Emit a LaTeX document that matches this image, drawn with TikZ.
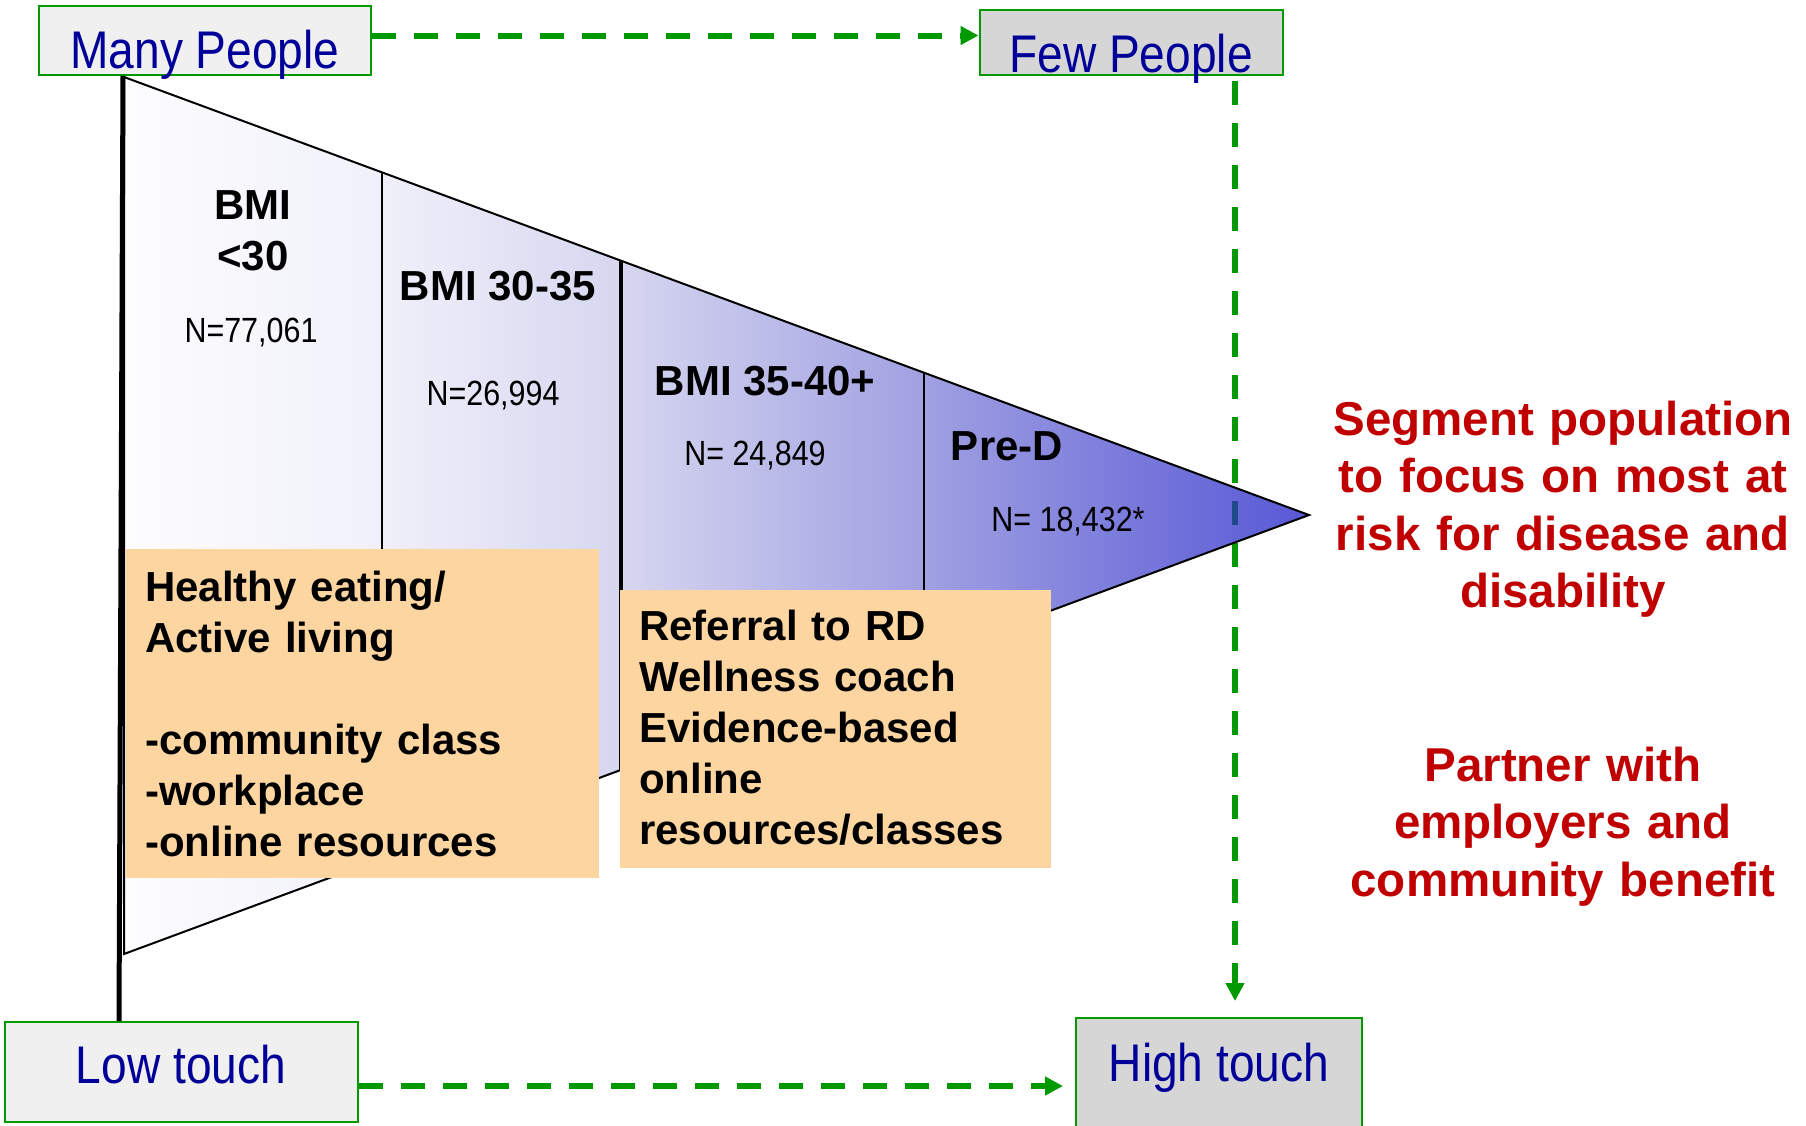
\documentclass[tikz,border=0pt]{standalone}
\usepackage{fontspec}
\setmainfont{Liberation Sans}
\newfontfamily\narrowfont[FakeStretch=0.87]{Liberation Sans}
\usetikzlibrary{arrows.meta}

\definecolor{linkgreen}{RGB}{0,153,0}
\definecolor{tagblue}{RGB}{0,0,153}
\definecolor{notered}{RGB}{192,0,0}
\definecolor{peach}{RGB}{252,213,161}
\definecolor{lightbox}{RGB}{240,240,240}
\definecolor{darkbox}{RGB}{214,214,214}
\definecolor{dashblue}{RGB}{31,74,138}
\definecolor{fun0}{RGB}{253,253,254}
\definecolor{fun1}{RGB}{240,240,250}
\definecolor{fun2}{RGB}{214,214,240}
\definecolor{fun3}{RGB}{160,160,226}
\definecolor{fun4}{RGB}{88,88,214}

\pgfdeclarehorizontalshading{funnel}{100bp}{color(0bp)=(fun0); color(25bp)=(fun0);
  color(35.9bp)=(fun1); color(46bp)=(fun2); color(58.8bp)=(fun3); color(75bp)=(fun4); color(100bp)=(fun4)}

\begin{document}
\begin{tikzpicture}[
  x=1pt, y=-1pt,
  touchbox/.style={draw=linkgreen, line width=2pt, inner sep=0pt, anchor=base, text=tagblue, font=\narrowfont\fontsize{53}{60}\selectfont},
  notebox/.style={fill=peach, anchor=north west, inner xsep=19pt, inner ysep=0pt, align=left, font=\bfseries\fontsize{42}{51}\selectfont},
  bmi/.style={anchor=base, inner sep=0pt, font=\bfseries\fontsize{42}{51}\selectfont},
  count/.style={anchor=base, inner sep=0pt, font=\narrowfont\fontsize{35}{42}\selectfont},
  remark/.style={anchor=base, inner sep=0pt, text width=520pt, align=center, text=notered, font=\bfseries\fontsize{47.5}{57.5}\selectfont},
  dashline/.style={linkgreen, line width=6pt, dash pattern=on 24pt off 18pt},
  arrow/.style={dashline, -{Triangle[length=18pt,width=18pt]}}
]
\useasboundingbox (0,0) rectangle (1806,1125);

\node[touchbox, fill=lightbox, minimum width=332pt, text height=62pt, text depth=7pt] (many) at (205,68) {Many People};
\node[touchbox, fill=darkbox, minimum width=303pt, text height=62pt, text depth=3pt] (few) at (1131,72) {Few People};
\node[touchbox, fill=lightbox, minimum width=353pt, text height=61pt, text depth=39pt] (low) at (181,1083) {Low touch};
\node[touchbox, fill=darkbox, minimum width=286pt, text height=63pt, text depth=63pt] (high) at (1219,1081) {High touch};

\draw[arrow] ([yshift=5pt]many.east) -- ([yshift=5pt]many.east -| few.west);
\draw[arrow, dash phase=37pt, shorten >=16pt] ([xshift=104pt]few.south) -- ([xshift=104pt]few.south |- high.north);
\draw[arrow, shorten >=12pt] ([yshift=-14pt]low.east) -- ([yshift=-14pt]low.east -| high.west);

\coordinate (tl) at (124,77);
\coordinate (tip) at (1309,515);
\coordinate (bl) at (124,954);
\shade[shading=funnel] (tl) -- (tip) -- (bl) -- cycle;
\begin{scope}
  \clip (tl) -- (tip) -- (bl) -- cycle;
  \draw[line width=1.5pt] (382,0) -- (382,1125);
  \draw[line width=3.5pt] (621,0) -- (621,1125);
  \draw[line width=1.5pt] (924,0) -- (924,1125);
  \draw[dashline, dashblue, dash phase=37pt] ([xshift=104pt]few.south) -- ([xshift=104pt]few.south |- high.north);
\end{scope}
\draw[line width=2pt] (tl) -- (tip) -- (bl) -- cycle;
\draw[line width=5pt] ([xshift=-82pt]many.south) -- ([xshift=-62pt]low.north);

\node[bmi, text width=120pt, align=center] (under30) at (253,219) {BMI\\<30};
\node[bmi] (mid) at (498,300) {BMI 30-35};
\node[bmi] (severe) at (765,395) {BMI 35-40+};
\node[bmi] (pred) at (1007,460) {Pre-D};
\node[count] (n1) at (251,342) {N=77,061};
\node[count] (n2) at (493,405) {N=26,994};
\node[count] (n3) at (755,465) {N= 24,849};
\node[count] (n4) at (1068,531) {N= 18,432*};

\node[notebox, text width=435pt, text height=52pt, text depth=277pt] (selfcare) at (126,549) {Healthy eating/\\Active living\\[51pt]-community class\\-workplace\\-online resources};
\node[notebox, text width=393pt, text height=50pt, text depth=228pt] (referral) at (620,590) {Referral to RD\\Wellness coach\\Evidence-based\\online\\resources/classes};

\node[remark] (segment) at (1563,435) {Segment population\\to focus on most at\\risk for disease and\\disability};
\node[remark] (partner) at (1563,781) {Partner with\\employers and\\community benefit};
\end{tikzpicture}
\end{document}
